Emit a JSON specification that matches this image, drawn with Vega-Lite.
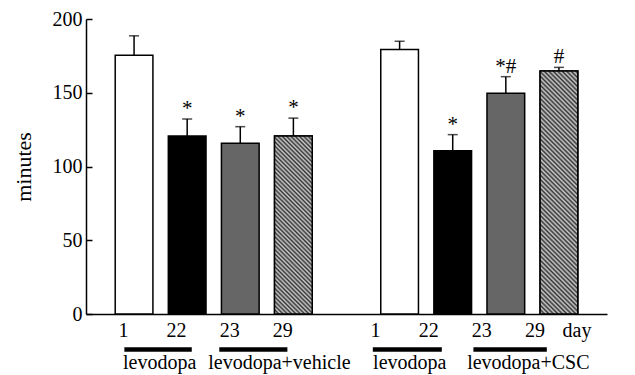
{
"$schema": "https://vega.github.io/schema/vega-lite/v6.json",
"width": 521, "height": 295,
"autosize": {"type": "none"},
"padding": {"left": 86, "top": 19, "right": 28, "bottom": 61},
"background": "white",
"config": {"view": {"stroke": null}, "font": "Liberation Serif", "text": {"font": "Liberation Serif", "fontSize": 20, "color": "black"}},
"datasets": {
"bars": [
{"group": "vehicle", "day": "1", "slot": "v1", "minutes": 175.5, "upper": 188.6, "sig": ""},
{"group": "vehicle", "day": "22", "slot": "v22", "minutes": 120.6, "upper": 132.2, "sig": "*"},
{"group": "vehicle", "day": "23", "slot": "v23", "minutes": 115.7, "upper": 127, "sig": "*"},
{"group": "vehicle", "day": "29", "slot": "v29", "minutes": 120.6, "upper": 132.8, "sig": "*"},
{"group": "CSC", "day": "1", "slot": "c1", "minutes": 179.4, "upper": 184.9, "sig": ""},
{"group": "CSC", "day": "22", "slot": "c22", "minutes": 110.7, "upper": 121.6, "sig": "*"},
{"group": "CSC", "day": "23", "slot": "c23", "minutes": 149.6, "upper": 160.9, "sig": "*#"},
{"group": "CSC", "day": "29", "slot": "c29", "minutes": 164.7, "upper": 167.2, "sig": "#"}
],
"lines": [
{"label": "levodopa", "from": "v1", "to": "v22"},
{"label": "levodopa+vehicle", "from": "v23", "to": "v29"},
{"label": "levodopa", "from": "c1", "to": "c22"},
{"label": "levodopa+CSC", "from": "c23", "to": "c29"}
]
},
"layer": [
{"data": {"name": "bars"},
 "mark": {"type": "bar", "stroke": "black", "strokeWidth": 1.5},
 "encoding": {
  "x": {"field": "slot", "type": "nominal", "scale": {"type": "band", "domain": ["v1","v22","v23","v29","gap","c1","c22","c23","c29"], "paddingInner": 0.29, "paddingOuter": 0.55}, "axis": {"labels": false, "ticks": false, "title": null, "domainColor": "black", "domainWidth": 1.5, "grid": false}},
  "y": {"field": "minutes", "type": "quantitative", "scale": {"domain": [0, 200], "nice": false}, "axis": {"title": "minutes", "values": [0, 50, 100, 150, 200], "tickSize": -6, "tickWidth": 1.5, "tickColor": "black", "domainColor": "black", "domainWidth": 1.5, "grid": false, "labelFont": "Liberation Serif", "labelFontSize": 20, "labelColor": "black", "labelPadding": 10, "titleFont": "Liberation Serif", "titleFontSize": 22, "titleFontWeight": "normal", "titleColor": "black", "titlePadding": 17}},
  "fill": {"field": "day", "type": "nominal", "scale": {"domain": ["1", "22", "23", "29"], "range": ["#ffffff", "#000000", "#666666", "#999999"]}, "legend": null}
 }},
{"data": {"name": "bars"}, "transform": [{"filter": "datum.slot == 'v29'"}],
 "mark": {"type": "bar", "stroke": "black", "strokeWidth": 1.5, "fill": {"gradient": "linear", "x1": 0, "y1": 1, "x2": 0.2463, "y2": -0.16, "stops": [
{"offset":0,"color":"#333"},{"offset":0.01,"color":"#ccc"},{"offset":0.02,"color":"#333"},{"offset":0.03,"color":"#ccc"},{"offset":0.04,"color":"#333"},{"offset":0.05,"color":"#ccc"},{"offset":0.06,"color":"#333"},{"offset":0.07,"color":"#ccc"},{"offset":0.08,"color":"#333"},{"offset":0.09,"color":"#ccc"},
{"offset":0.1,"color":"#333"},{"offset":0.11,"color":"#ccc"},{"offset":0.12,"color":"#333"},{"offset":0.13,"color":"#ccc"},{"offset":0.14,"color":"#333"},{"offset":0.15,"color":"#ccc"},{"offset":0.16,"color":"#333"},{"offset":0.17,"color":"#ccc"},{"offset":0.18,"color":"#333"},{"offset":0.19,"color":"#ccc"},
{"offset":0.2,"color":"#333"},{"offset":0.21,"color":"#ccc"},{"offset":0.22,"color":"#333"},{"offset":0.23,"color":"#ccc"},{"offset":0.24,"color":"#333"},{"offset":0.25,"color":"#ccc"},{"offset":0.26,"color":"#333"},{"offset":0.27,"color":"#ccc"},{"offset":0.28,"color":"#333"},{"offset":0.29,"color":"#ccc"},
{"offset":0.3,"color":"#333"},{"offset":0.31,"color":"#ccc"},{"offset":0.32,"color":"#333"},{"offset":0.33,"color":"#ccc"},{"offset":0.34,"color":"#333"},{"offset":0.35,"color":"#ccc"},{"offset":0.36,"color":"#333"},{"offset":0.37,"color":"#ccc"},{"offset":0.38,"color":"#333"},{"offset":0.39,"color":"#ccc"},
{"offset":0.4,"color":"#333"},{"offset":0.41,"color":"#ccc"},{"offset":0.42,"color":"#333"},{"offset":0.43,"color":"#ccc"},{"offset":0.44,"color":"#333"},{"offset":0.45,"color":"#ccc"},{"offset":0.46,"color":"#333"},{"offset":0.47,"color":"#ccc"},{"offset":0.48,"color":"#333"},{"offset":0.49,"color":"#ccc"},
{"offset":0.5,"color":"#333"},{"offset":0.51,"color":"#ccc"},{"offset":0.52,"color":"#333"},{"offset":0.53,"color":"#ccc"},{"offset":0.54,"color":"#333"},{"offset":0.55,"color":"#ccc"},{"offset":0.56,"color":"#333"},{"offset":0.57,"color":"#ccc"},{"offset":0.58,"color":"#333"},{"offset":0.59,"color":"#ccc"},
{"offset":0.6,"color":"#333"},{"offset":0.61,"color":"#ccc"},{"offset":0.62,"color":"#333"},{"offset":0.63,"color":"#ccc"},{"offset":0.64,"color":"#333"},{"offset":0.65,"color":"#ccc"},{"offset":0.66,"color":"#333"},{"offset":0.67,"color":"#ccc"},{"offset":0.68,"color":"#333"},{"offset":0.69,"color":"#ccc"},
{"offset":0.7,"color":"#333"},{"offset":0.71,"color":"#ccc"},{"offset":0.72,"color":"#333"},{"offset":0.73,"color":"#ccc"},{"offset":0.74,"color":"#333"},{"offset":0.75,"color":"#ccc"},{"offset":0.76,"color":"#333"},{"offset":0.77,"color":"#ccc"},{"offset":0.78,"color":"#333"},{"offset":0.79,"color":"#ccc"},
{"offset":0.8,"color":"#333"},{"offset":0.81,"color":"#ccc"},{"offset":0.82,"color":"#333"},{"offset":0.83,"color":"#ccc"},{"offset":0.84,"color":"#333"},{"offset":0.85,"color":"#ccc"},{"offset":0.86,"color":"#333"},{"offset":0.87,"color":"#ccc"},{"offset":0.88,"color":"#333"},{"offset":0.89,"color":"#ccc"},
{"offset":0.9,"color":"#333"},{"offset":0.91,"color":"#ccc"},{"offset":0.92,"color":"#333"},{"offset":0.93,"color":"#ccc"},{"offset":0.94,"color":"#333"},{"offset":0.95,"color":"#ccc"},{"offset":0.96,"color":"#333"},{"offset":0.97,"color":"#ccc"},{"offset":0.98,"color":"#333"},{"offset":0.99,"color":"#ccc"},
{"offset":1,"color":"#333"}
 ]}},
 "encoding": {
  "x": {"field": "slot", "type": "nominal", "title": null, "scale": {"type": "band", "domain": ["v1","v22","v23","v29","gap","c1","c22","c23","c29"], "paddingInner": 0.29, "paddingOuter": 0.55}},
  "y": {"field": "minutes", "type": "quantitative", "scale": {"domain": [0, 200], "nice": false}}
 }},
{"data": {"name": "bars"}, "transform": [{"filter": "datum.slot == 'c29'"}],
 "mark": {"type": "bar", "stroke": "black", "strokeWidth": 1.5, "fill": {"gradient": "linear", "x1": 0, "y1": 1, "x2": 0.1753, "y2": -0.128, "stops": [
{"offset":0,"color":"#333"},{"offset":0.008,"color":"#ccc"},{"offset":0.016,"color":"#333"},{"offset":0.024,"color":"#ccc"},{"offset":0.032,"color":"#333"},{"offset":0.04,"color":"#ccc"},{"offset":0.048,"color":"#333"},{"offset":0.056,"color":"#ccc"},{"offset":0.064,"color":"#333"},{"offset":0.072,"color":"#ccc"},{"offset":0.08,"color":"#333"},{"offset":0.088,"color":"#ccc"},{"offset":0.096,"color":"#333"},{"offset":0.104,"color":"#ccc"},{"offset":0.112,"color":"#333"},{"offset":0.12,"color":"#ccc"},{"offset":0.128,"color":"#333"},{"offset":0.136,"color":"#ccc"},{"offset":0.144,"color":"#333"},{"offset":0.152,"color":"#ccc"},{"offset":0.16,"color":"#333"},{"offset":0.168,"color":"#ccc"},{"offset":0.176,"color":"#333"},{"offset":0.184,"color":"#ccc"},{"offset":0.192,"color":"#333"},
{"offset":0.2,"color":"#ccc"},{"offset":0.208,"color":"#333"},{"offset":0.216,"color":"#ccc"},{"offset":0.224,"color":"#333"},{"offset":0.232,"color":"#ccc"},{"offset":0.24,"color":"#333"},{"offset":0.248,"color":"#ccc"},{"offset":0.256,"color":"#333"},{"offset":0.264,"color":"#ccc"},{"offset":0.272,"color":"#333"},{"offset":0.28,"color":"#ccc"},{"offset":0.288,"color":"#333"},{"offset":0.296,"color":"#ccc"},{"offset":0.304,"color":"#333"},{"offset":0.312,"color":"#ccc"},{"offset":0.32,"color":"#333"},{"offset":0.328,"color":"#ccc"},{"offset":0.336,"color":"#333"},{"offset":0.344,"color":"#ccc"},{"offset":0.352,"color":"#333"},{"offset":0.36,"color":"#ccc"},{"offset":0.368,"color":"#333"},{"offset":0.376,"color":"#ccc"},{"offset":0.384,"color":"#333"},{"offset":0.392,"color":"#ccc"},
{"offset":0.4,"color":"#333"},{"offset":0.408,"color":"#ccc"},{"offset":0.416,"color":"#333"},{"offset":0.424,"color":"#ccc"},{"offset":0.432,"color":"#333"},{"offset":0.44,"color":"#ccc"},{"offset":0.448,"color":"#333"},{"offset":0.456,"color":"#ccc"},{"offset":0.464,"color":"#333"},{"offset":0.472,"color":"#ccc"},{"offset":0.48,"color":"#333"},{"offset":0.488,"color":"#ccc"},{"offset":0.496,"color":"#333"},{"offset":0.504,"color":"#ccc"},{"offset":0.512,"color":"#333"},{"offset":0.52,"color":"#ccc"},{"offset":0.528,"color":"#333"},{"offset":0.536,"color":"#ccc"},{"offset":0.544,"color":"#333"},{"offset":0.552,"color":"#ccc"},{"offset":0.56,"color":"#333"},{"offset":0.568,"color":"#ccc"},{"offset":0.576,"color":"#333"},{"offset":0.584,"color":"#ccc"},{"offset":0.592,"color":"#333"},
{"offset":0.6,"color":"#ccc"},{"offset":0.608,"color":"#333"},{"offset":0.616,"color":"#ccc"},{"offset":0.624,"color":"#333"},{"offset":0.632,"color":"#ccc"},{"offset":0.64,"color":"#333"},{"offset":0.648,"color":"#ccc"},{"offset":0.656,"color":"#333"},{"offset":0.664,"color":"#ccc"},{"offset":0.672,"color":"#333"},{"offset":0.68,"color":"#ccc"},{"offset":0.688,"color":"#333"},{"offset":0.696,"color":"#ccc"},{"offset":0.704,"color":"#333"},{"offset":0.712,"color":"#ccc"},{"offset":0.72,"color":"#333"},{"offset":0.728,"color":"#ccc"},{"offset":0.736,"color":"#333"},{"offset":0.744,"color":"#ccc"},{"offset":0.752,"color":"#333"},{"offset":0.76,"color":"#ccc"},{"offset":0.768,"color":"#333"},{"offset":0.776,"color":"#ccc"},{"offset":0.784,"color":"#333"},{"offset":0.792,"color":"#ccc"},
{"offset":0.8,"color":"#333"},{"offset":0.808,"color":"#ccc"},{"offset":0.816,"color":"#333"},{"offset":0.824,"color":"#ccc"},{"offset":0.832,"color":"#333"},{"offset":0.84,"color":"#ccc"},{"offset":0.848,"color":"#333"},{"offset":0.856,"color":"#ccc"},{"offset":0.864,"color":"#333"},{"offset":0.872,"color":"#ccc"},{"offset":0.88,"color":"#333"},{"offset":0.888,"color":"#ccc"},{"offset":0.896,"color":"#333"},{"offset":0.904,"color":"#ccc"},{"offset":0.912,"color":"#333"},{"offset":0.92,"color":"#ccc"},{"offset":0.928,"color":"#333"},{"offset":0.936,"color":"#ccc"},{"offset":0.944,"color":"#333"},{"offset":0.952,"color":"#ccc"},{"offset":0.96,"color":"#333"},{"offset":0.968,"color":"#ccc"},{"offset":0.976,"color":"#333"},{"offset":0.984,"color":"#ccc"},{"offset":0.992,"color":"#333"},
{"offset":1,"color":"#ccc"}
 ]}},
 "encoding": {
  "x": {"field": "slot", "type": "nominal", "title": null, "scale": {"type": "band", "domain": ["v1","v22","v23","v29","gap","c1","c22","c23","c29"], "paddingInner": 0.29, "paddingOuter": 0.55}},
  "y": {"field": "minutes", "type": "quantitative", "scale": {"domain": [0, 200], "nice": false}}
 }},
{"data": {"name": "bars"},
 "mark": {"type": "rule", "strokeWidth": 1.5, "color": "black"},
 "encoding": {
  "x": {"field": "slot", "type": "nominal", "title": null},
  "y": {"field": "minutes", "type": "quantitative"},
  "y2": {"field": "upper"}
 }},
{"data": {"name": "bars"},
 "mark": {"type": "tick", "orient": "horizontal", "size": 10, "thickness": 1.5, "color": "black"},
 "encoding": {
  "x": {"field": "slot", "type": "nominal", "title": null},
  "y": {"field": "upper", "type": "quantitative"}
 }},
{"data": {"name": "bars"}, "transform": [{"filter": "datum.sig != ''"}],
 "mark": {"type": "text", "baseline": "alphabetic", "dy": -4, "fontSize": 21},
 "encoding": {
  "x": {"field": "slot", "type": "nominal", "title": null},
  "y": {"field": "upper", "type": "quantitative"},
  "text": {"field": "sig"}
 }},
{"data": {"name": "bars"}, "transform": [{"filter": "datum.group == 'vehicle'"}],
 "mark": {"type": "text", "baseline": "alphabetic", "dx": -10.6, "fontSize": 20},
 "encoding": {
  "x": {"field": "slot", "type": "nominal", "title": null},
  "y": {"datum": -15.6},
  "text": {"field": "day"}
 }},
{"data": {"name": "bars"}, "transform": [{"filter": "datum.group == 'CSC'"}],
 "mark": {"type": "text", "baseline": "alphabetic", "dx": -24, "fontSize": 20},
 "encoding": {
  "x": {"field": "slot", "type": "nominal", "title": null},
  "y": {"datum": -15.6},
  "text": {"field": "day"}
 }},
{"data": {"values": [{"unit": "day"}]},
 "mark": {"type": "text", "baseline": "alphabetic", "dx": 18, "fontSize": 20},
 "encoding": {
  "x": {"datum": "c29"},
  "y": {"datum": -15.6},
  "text": {"field": "unit"}
 }},
{"data": {"name": "lines"}, "transform": [{"filter": "datum.from == 'v1'"}],
 "layer": [
  {"mark": {"type": "rule", "strokeWidth": 4.5, "color": "black", "xOffset": -9.7, "x2Offset": 4.6},
   "encoding": {"x": {"field": "from", "type": "nominal", "title": null}, "x2": {"field": "to"}, "y": {"datum": -24.1}}},
  {"mark": {"type": "text", "align": "left", "baseline": "alphabetic", "dx": -11, "fontSize": 20},
   "encoding": {"x": {"field": "from", "type": "nominal", "title": null}, "y": {"datum": -37.4}, "text": {"field": "label"}}}
 ]},
{"data": {"name": "lines"}, "transform": [{"filter": "datum.from == 'v23'"}],
 "layer": [
  {"mark": {"type": "rule", "strokeWidth": 4.5, "color": "black", "xOffset": -21, "x2Offset": -6},
   "encoding": {"x": {"field": "from", "type": "nominal", "title": null}, "x2": {"field": "to"}, "y": {"datum": -24.1}}},
  {"mark": {"type": "text", "align": "left", "baseline": "alphabetic", "dx": -32, "fontSize": 20},
   "encoding": {"x": {"field": "from", "type": "nominal", "title": null}, "y": {"datum": -37.4}, "text": {"field": "label"}}}
 ]},
{"data": {"name": "lines"}, "transform": [{"filter": "datum.from == 'c1'"}],
 "layer": [
  {"mark": {"type": "rule", "strokeWidth": 4.5, "color": "black", "xOffset": -26.8, "x2Offset": -10.9},
   "encoding": {"x": {"field": "from", "type": "nominal", "title": null}, "x2": {"field": "to"}, "y": {"datum": -24.1}}},
  {"mark": {"type": "text", "align": "left", "baseline": "alphabetic", "dx": -26.5, "fontSize": 20},
   "encoding": {"x": {"field": "from", "type": "nominal", "title": null}, "y": {"datum": -37.4}, "text": {"field": "label"}}}
 ]},
{"data": {"name": "lines"}, "transform": [{"filter": "datum.from == 'c23'"}],
 "layer": [
  {"mark": {"type": "rule", "strokeWidth": 4.5, "color": "black", "xOffset": -32.4, "x2Offset": -12.1},
   "encoding": {"x": {"field": "from", "type": "nominal", "title": null}, "x2": {"field": "to"}, "y": {"datum": -24.1}}},
  {"mark": {"type": "text", "align": "left", "baseline": "alphabetic", "dx": -38.7, "fontSize": 20},
   "encoding": {"x": {"field": "from", "type": "nominal", "title": null}, "y": {"datum": -37.4}, "text": {"field": "label"}}}
 ]}
]
}
